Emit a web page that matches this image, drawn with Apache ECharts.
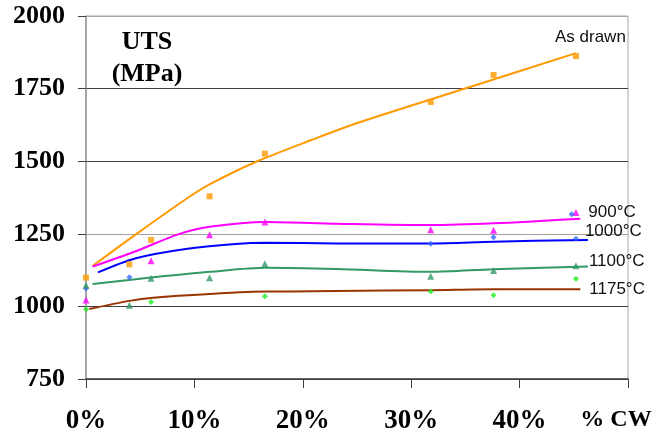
<!DOCTYPE html>
<html>
<head>
<meta charset="utf-8">
<script src="https://cdn.jsdelivr.net/npm/echarts@6/dist/echarts.min.js"></script>
<style>
  html, body { margin: 0; padding: 0; background: #fff; }
  #main { width: 671px; height: 435px; }
</style>
</head>
<body>
<div id="main"></div>
<script>
// measured points (% cold work, UTS in MPa)
const drawnX = [0, 4, 6, 11.4, 16.5, 31.8, 37.6, 45.2]
const drawnY = [1099, 1145, 1229, 1379, 1526, 1704, 1797, 1862]
const t900X = [0, 6, 11.4, 16.5, 31.8, 37.6, 45.2]
const t900Y = [1022, 1157, 1247, 1291, 1264, 1262, 1323]
const t1000X = [0, 4, 31.8, 37.6, 44.8, 45.2]
const t1000Y = [1062, 1100, 1216, 1238, 1317, 1233]
const t1100X = [0, 4, 6, 11.4, 16.5, 31.8, 37.6, 45.2]
const t1100Y = [1073, 1004, 1097, 1099, 1147, 1104, 1124, 1140]
const t1175X = [0, 6, 16.5, 31.8, 37.6, 45.2]
const t1175Y = [990, 1015, 1035, 1051, 1038, 1095]

// trend lines
const fitDrawnX = [0.6, 4.6, 9.2, 11.4, 15.7, 20.8, 25.3, 35.2, 45.2]
const fitDrawnY = [1139, 1248, 1369, 1420, 1498, 1573, 1635, 1753, 1872]
const fit900X = [0.6, 4.6, 8.5, 11.4, 16.6, 23.1, 31.8, 37.6, 45.6]
const fit900Y = [1137, 1190, 1248, 1274, 1291, 1285, 1280, 1286, 1302]
const fit1000X = [1.1, 4.6, 9.2, 13.8, 16.6, 23.1, 31.8, 37.6, 46.3]
const fit1000Y = [1117, 1166, 1198, 1215, 1219, 1217, 1217, 1223, 1229]
const fit1100X = [0.6, 6.2, 11.4, 16.6, 23.1, 31.8, 37.6, 46.3]
const fit1100Y = [1077, 1100, 1119, 1133, 1129, 1119, 1128, 1137]
const fit1175X = [0.3, 4, 6.2, 11.4, 16.6, 23.1, 31.8, 37.6, 45.6]
const fit1175Y = [991, 1019, 1030, 1043, 1051, 1053, 1056, 1059, 1059]

const xTicks = [0, 10, 20, 30, 40, 50]
const yTicks = [750, 1000, 1250, 1500, 1750, 2000]
const lineNames = ['As drawn', '900°C', '1000°C', '1100°C', '1175°C']

const pairs = (xs, ys) => xs.map((x, i) => [x, ys[i]])

var myChart = echarts.init(document.getElementById('main'), null, {renderer: 'canvas'})

const serif = 'Liberation Serif, Times New Roman, serif'
const sans = 'Liberation Sans, Arial, sans-serif'

const fitLine = (name, data, color, offset) => ({
    name: name,
    type: 'line',
    smooth: 0.3,
    showSymbol: false,
    data: data,
    lineStyle: {color: color, width: 2},
    endLabel: {
        show: true,
        formatter: name,
        distance: 0,
        offset: offset,
        color: '#111',
        fontFamily: sans,
        fontSize: 17
    },
    z: 2
})

const dots = (data, symbol, size, color) => ({
    type: 'scatter',
    symbol: symbol,
    symbolSize: size,
    data: data,
    itemStyle: {color: color},
    z: 3
})

myChart.setOption({
    animation: false,
    backgroundColor: '#fff',
    title: {
        text: 'UTS\n(MPa)',
        left: 142,
        top: 21,
        textAlign: 'center',
        textStyle: {
            fontFamily: serif,
            fontWeight: 'bold',
            fontSize: 26,
            lineHeight: 32,
            color: '#000'
        }
    },
    grid: {
        left: 86,
        right: 43,
        top: 16,
        bottom: 56,
        show: true,
        borderColor: '#a8a8a8',
        borderWidth: 1
    },
    xAxis: {
        type: 'value',
        min: xTicks[0],
        max: xTicks[xTicks.length - 1],
        interval: 10,
        axisLine: {lineStyle: {color: '#404040', width: 1.5}},
        axisTick: {show: true, length: 9, lineStyle: {color: '#404040'}},
        splitLine: {show: false},
        axisLabel: {
            margin: 29,
            fontFamily: serif,
            fontWeight: 'bold',
            fontSize: 27,
            color: '#000',
            formatter: v => v === 50 ? '{cw|% CW}' : v + '%',
            rich: {
                cw: {fontFamily: serif, fontWeight: 'bold', fontSize: 24, color: '#000', padding: [0, 24, 0, 0]}
            }
        }
    },
    yAxis: {
        type: 'value',
        min: yTicks[0],
        max: yTicks[yTicks.length - 1],
        interval: 250,
        axisLine: {show: true, lineStyle: {color: '#999', width: 1.5}},
        axisTick: {show: true, length: 8, lineStyle: {color: '#404040'}},
        splitLine: {
            show: true,
            lineStyle: {color: ['#404040', '#404040', '#a0a0a0', '#404040', '#404040', '#a8a8a8'], width: 1.2}
        },
        axisLabel: {
            margin: 21,
            fontFamily: serif,
            fontWeight: 'bold',
            fontSize: 26,
            color: '#000',
            formatter: v => String(v)
        }
    },
    series: [
        fitLine(lineNames[0], pairs(fitDrawnX, fitDrawnY), '#ff9900', [-21, -16]),
        fitLine(lineNames[1], pairs(fit900X, fit900Y), '#ff00ff', [8, -6]),
        fitLine(lineNames[2], pairs(fit1000X, fit1000Y), '#0000ff', [-3, -9]),
        fitLine(lineNames[3], pairs(fit1100X, fit1100Y), '#339966', [1, -5]),
        fitLine(lineNames[4], pairs(fit1175X, fit1175Y), '#993300', [9, 0]),
        dots(pairs(drawnX, drawnY), 'rect', 6, '#ff9900'),
        dots(pairs(t900X, t900Y), 'triangle', 7, '#ff00ff'),
        dots(pairs(t1000X, t1000Y), 'diamond', 6, '#3366ff'),
        dots(pairs(t1100X, t1100Y), 'triangle', 7, '#339966'),
        dots(pairs(t1175X, t1175Y), 'diamond', 6, '#22ee22')
    ]
})
</script>
</body>
</html>
